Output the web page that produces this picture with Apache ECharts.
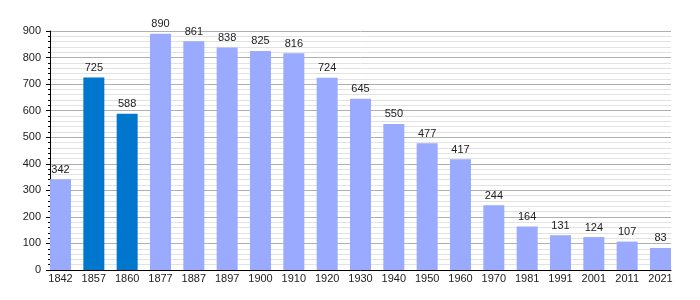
<!DOCTYPE html>
<html><head><meta charset="utf-8">
<script src="https://cdn.jsdelivr.net/npm/echarts@6/dist/echarts.min.js"></script>
<style>html,body{margin:0;padding:0;background:#fff}#c{width:700px;height:300px}</style>
</head><body><div id="c"></div>
<script>
const categories = ['1842','1857','1860','1877','1887','1897','1900','1910','1920','1930','1940','1950','1960','1970','1981','1991','2001','2011','2021'];
const values = [342,725,588,890,861,838,825,816,724,645,550,477,417,244,164,131,124,107,83];
const highlighted = ['1857','1860'];
const yTicks = [0,100,200,300,400,500,600,700,800,900];

const chart = echarts.init(document.getElementById('c'), null, {renderer:'canvas'});
const data = values.map((v,i)=>({
  value:[i,v],
  itemStyle:{color: highlighted.includes(categories[i]) ? '#0077cc' : '#99aaff'}
}));
chart.setOption({
  animation:false,
  grid:{left:50,right:29,top:31,bottom:30,containLabel:false},
  xAxis:{
    type:'value', min:-0.315, max:categories.length-1+0.315,
    axisLine:{show:true,onZero:false,lineStyle:{color:'#000',width:1}},
    axisTick:{show:false},
    splitLine:{show:false},
    axisLabel:{customValues:categories.map((c,i)=>i), formatter:v=>categories[Math.round(v)]||'',
      color:'#222',fontSize:11,fontFamily:'Liberation Sans, Arial, sans-serif',margin:3}
  },
  yAxis:{
    type:'value', min:0, max:900, interval:100,
    axisLine:{show:true,onZero:false,lineStyle:{color:'#000'}},
    axisTick:{show:true,length:4,lineStyle:{color:'#000'}},
    minorTick:{show:true,splitNumber:5,length:2,lineStyle:{color:'#000'}},
    splitLine:{show:true,lineStyle:{color:'#b0b0b0',width:1}},
    minorSplitLine:{show:true,lineStyle:{color:'#e2e2e2',width:1}},
    axisLabel:{color:'#222',fontSize:11,fontFamily:'Liberation Sans, Arial, sans-serif',margin:9,
      formatter:v=>yTicks.includes(v)?String(v):''}
  },
  series:[{
    type:'bar', data:data, barWidth:21,
    label:{show:true,position:'top',distance:4,color:'#222',fontSize:11,fontFamily:'Liberation Sans, Arial, sans-serif',
      formatter:p=>String(p.value[1])}
  }]
});
</script></body></html>
